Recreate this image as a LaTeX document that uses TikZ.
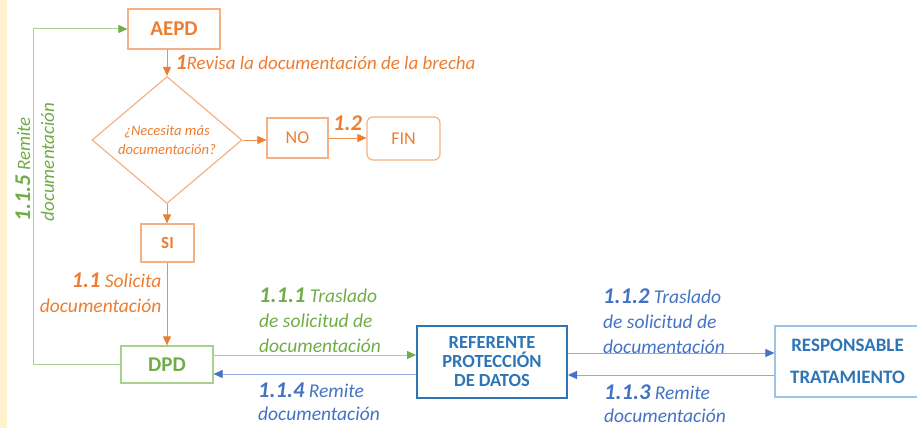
\documentclass[tikz,border=0pt]{standalone}
\usepackage{fontspec}
\setmainfont{Carlito}
\usepackage{xcolor}
\usepackage{tikz}
\usetikzlibrary{arrows.meta}
\usetikzlibrary{shapes.geometric}

\definecolor{orangeC}{HTML}{ED7D31}
\definecolor{orangeL}{HTML}{F4B183}
\definecolor{greenC}{HTML}{70AD47}
\definecolor{greenL}{HTML}{A9D18E}
\definecolor{blueC}{HTML}{4472C4}
\definecolor{blueD}{HTML}{2E75B6}
\definecolor{blueL}{HTML}{9DC3E6}
\definecolor{blueM}{HTML}{8FAADC}
\definecolor{paleY}{HTML}{FFF2CC}

\newcommand{\stepno}[1]{{\fontsize{22.5}{25}\selectfont\bfseries #1}}

\begin{document}
\begin{tikzpicture}[x=1pt, y=-1pt,
    obox/.style={draw=orangeL, line width=1.2pt, text=orangeC, inner sep=0pt},
    gbox/.style={draw=greenL, line width=1.2pt, text=greenC, inner sep=0pt},
    oarrow/.style={draw=orangeC!85, line width=1pt, -{Triangle[length=9pt, width=8pt, color=orangeC]}},
    garrow/.style={draw=greenL, line width=1pt, -{Triangle[length=9pt, width=8pt, color=greenC]}},
    barrow/.style={draw=blueM, line width=1pt, -{Triangle[length=9pt, width=8pt, color=blueC]}},
    lbl/.style={inner sep=0pt, font=\fontsize{19.5}{25}\selectfont\itshape}]
    \useasboundingbox (0, 0) rectangle (917, 428);
    \fill [paleY] (0, 0) rectangle (7, 428);

    % boxes
    \node (aepd) at (174, 29) [obox, minimum width=92pt, minimum height=40pt, font=\fontsize{21}{24}\selectfont\bfseries] {AEPD};
    \node (dec) at (167, 140) [diamond, draw=orangeL, line width=1.2pt, text=orangeC, minimum width=150pt, minimum height=96pt, inner sep=0pt, align=center, font=\fontsize{14.6}{19}\selectfont\itshape] {¿Necesita más\\documentación?};
    \node (no) at (297.5, 138) [obox, minimum width=61pt, minimum height=40pt, font=\fontsize{18}{20}\selectfont] {NO};
    \node (fin) at (403.5, 138.5) [obox, rounded corners=6pt, minimum width=73pt, minimum height=43pt, font=\fontsize{18}{20}\selectfont] {FIN};
    \node (si) at (167.5, 243) [obox, minimum width=53pt, minimum height=38pt, font=\fontsize{17}{20}\selectfont\bfseries] {SI};
    \node (dpd) at (167, 364.5) [gbox, minimum width=92pt, minimum height=37pt, font=\fontsize{21}{24}\selectfont\bfseries] {DPD};
    \node (ref) at (492, 362) [draw=blueD, line width=2pt, text=blueD, inner sep=0pt, minimum width=150pt, minimum height=72pt, align=center, font=\fontsize{18.5}{19}\selectfont\bfseries] {REFERENTE\\PROTECCIÓN\\DE DATOS};
    \node (resp) at (847.5, 361.5) [draw=blueL, line width=1.2pt, text=blueD, inner sep=0pt, minimum width=145pt, minimum height=71pt, align=center, font=\fontsize{19}{32}\selectfont\bfseries] {RESPONSABLE\\TRATAMIENTO};

    % orange flow
    \draw [] (aepd.south -| dec.north) edge [oarrow] node [lbl, anchor=west, xshift=8pt, text=orangeC, font=\fontsize{19}{25}\selectfont\itshape] {{\fontsize{22}{24}\selectfont\bfseries 1}Revisa la documentación de la brecha} (dec.north);
    \draw [] (dec.east) edge [oarrow] (dec.east -| no.west);
    \draw [] (no.east) edge [oarrow] node [lbl, above, yshift=7pt, text=orangeC] {\stepno{1.2}} (no.east -| fin.west);
    \draw [] (dec.south) edge [oarrow] (dec.south |- si.north);
    \draw [] (si.south -| dec.south) edge [oarrow] node [lbl, pos=0.36, anchor=east, xshift=-5pt, align=right, text=orangeC] {\stepno{1.1} Solicita\\documentación} (dec.south |- dpd.north);

    % green return to AEPD
    \coordinate (back) at (33, 29);
    \draw [garrow] (dpd.west) -| (back) -- (aepd.west);
    \node (lbl115) at (35, 162) [lbl, rotate=90, align=left, text=greenC, font=\fontsize{19}{24}\selectfont\itshape] {\stepno{1.1.5} Remite\\documentación};

    % DPD <-> referente
    \draw [] ([yshift=9.5pt]dpd.east) edge [garrow] ([yshift=9.5pt]dpd.east -| ref.west);
    \draw [] ([yshift=-9.5pt]dpd.east -| ref.west) edge [barrow] ([yshift=-9.5pt]dpd.east);
    \node (lbl111) at (259, 320) [lbl, anchor=west, align=left, text=greenC] {\stepno{1.1.1} Traslado\\de solicitud de\\documentación};
    \node (lbl114) at (258, 401.5) [lbl, anchor=west, align=left, text=blueC, font=\fontsize{19.5}{23}\selectfont\itshape] {\stepno{1.1.4} Remite\\documentación};

    % referente <-> responsable
    \draw [] ([yshift=9pt]ref.east) edge [barrow] ([yshift=9pt]ref.east -| resp.west);
    \draw [] ([yshift=-13pt]ref.east -| resp.west) edge [barrow] ([yshift=-13pt]ref.east);
    \node (lbl112) at (603, 321.5) [lbl, anchor=west, align=left, text=blueC] {\stepno{1.1.2} Traslado\\de solicitud de\\documentación};
    \node (lbl113) at (604, 403.5) [lbl, anchor=west, align=left, text=blueC, font=\fontsize{19.5}{23}\selectfont\itshape] {\stepno{1.1.3} Remite\\documentación};
\end{tikzpicture}
\end{document}
